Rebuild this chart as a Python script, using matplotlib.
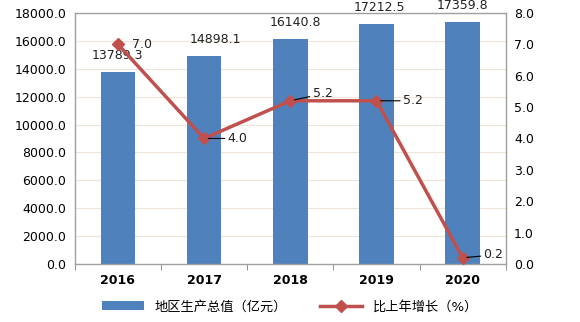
import numpy as np
import matplotlib.pyplot as plt

plt.rcParams['font.family'] = ['DejaVu Sans', 'Noto Sans CJK SC']

years = ['2016', '2017', '2018', '2019', '2020']
gdp = [13789.3, 14898.1, 16140.8, 17212.5, 17359.8]
growth = [7.0, 4.0, 5.2, 5.2, 0.2]

bar_color = '#4F81BD'
line_color = '#C0504D'

fig = plt.figure(figsize=(5.8, 3.22), dpi=100)
ax = fig.add_axes([0.129, 0.180, 0.743, 0.780])
x = np.arange(len(years))

bars = ax.bar(x, gdp, width=0.4, color=bar_color, zorder=2, label='地区生产总值（亿元）')
ax.set_xlim(-0.5, len(years) - 0.5)
ax.set_ylim(0, 18000)
ax.set_yticks(np.arange(0, 18001, 2000))
ax.set_yticklabels(['%.1f' % v for v in np.arange(0, 18001, 2000)], fontsize=9)
ax.set_xticks(x)
ax.set_xticklabels(years, fontsize=9, fontweight='bold')
ax.set_xticks(np.arange(-0.5, len(years)), minor=True)
ax.tick_params(axis='x', which='major', length=0, pad=7)
ax.tick_params(axis='x', which='minor', length=4, color='#808080')
ax.tick_params(axis='y', length=0, pad=6)
ax.grid(axis='y', color='#EDE5D6', linewidth=0.8, zorder=0)
for s in ax.spines.values():
    s.set_color('#A0A0A0')
    s.set_linewidth(1.0)

# bar value labels (dx in points)
bar_dx = [0, 8, 4, 2, 0]
for i, v in enumerate(gdp):
    ax.annotate('%.1f' % v, (x[i], v), xytext=(bar_dx[i], 7), textcoords='offset points',
                ha='center', va='bottom', fontsize=9, color='#222222')

ax2 = ax.twinx()
ax2.set_ylim(0, 8)
ax2.set_yticks(np.arange(0, 8.1, 1))
ax2.set_yticklabels(['%.1f' % v for v in np.arange(0, 8.1, 1)], fontsize=9)
ax2.tick_params(axis='y', length=0, pad=6)
for s in ax2.spines.values():
    s.set_visible(False)
line, = ax2.plot(x, growth, color=line_color, linewidth=2.5, marker='D', markersize=6,
                 zorder=3, label='比上年增长（%）')

# growth labels with leader lines (offset in points)
offsets = [(10, 0), (17, 0), (16, 5), (19, 0), (15, 2)]
for i, v in enumerate(growth):
    dx, dy = offsets[i]
    arrow = None if i == 0 else dict(arrowstyle='-', color='black', lw=0.8, shrinkA=0, shrinkB=3)
    ax2.annotate('%.1f' % v, (x[i], v), xytext=(dx, dy), textcoords='offset points',
                 ha='left', va='center', fontsize=9, color='#222222', arrowprops=arrow)

fig.legend([bars, line], ['地区生产总值（亿元）', '比上年增长（%）'], loc='lower center',
           bbox_to_anchor=(0.5, -0.01), ncol=2, frameon=False, fontsize=9.5,
           handlelength=3.2, columnspacing=2.5)

fig.savefig('out.png', dpi=100)
